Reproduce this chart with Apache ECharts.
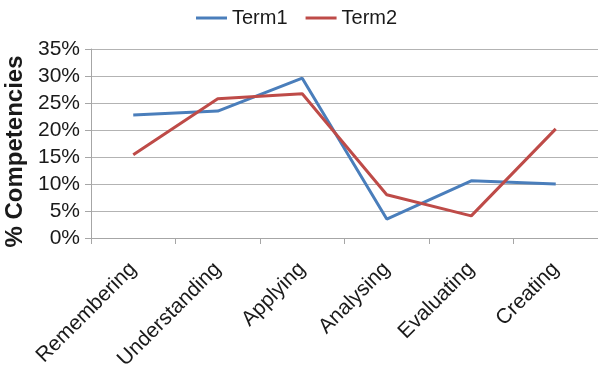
<!DOCTYPE html>
<html>
<head>
<meta charset="utf-8">
<script src="https://cdn.jsdelivr.net/npm/echarts@6/dist/echarts.min.js"></script>
<style>
  html, body { margin: 0; padding: 0; background: #fff; }
  #chart { width: 598px; height: 379px; }
</style>
</head>
<body>
<div id="chart"></div>
<script>
// Bloom's taxonomy levels and share of competencies per term (%)
const categories = ['Remembering', 'Understanding', 'Applying', 'Analysing', 'Evaluating', 'Creating'];
const term1 = [22.8, 23.5, 29.6, 3.5, 10.6, 10.0];
const term2 = [15.4, 25.8, 26.7, 8.0, 4.1, 20.2];
const seriesNames = ['Term1', 'Term2'];

const chart = echarts.init(document.getElementById('chart'), null, { renderer: 'canvas' });
const font = 'Liberation Sans, Arial, sans-serif';

chart.setOption({
  animation: false,
  backgroundColor: '#ffffff',
  legend: {
    top: 3,
    left: 191,
    icon: 'rect',
    itemWidth: 31,
    itemHeight: 3,
    itemGap: 18,
    textStyle: { fontFamily: font, fontSize: 20, color: '#1a1a1a' },
    data: seriesNames
  },
  grid: {
    left: 91, right: 0, top: 49, bottom: 141,
    containLabel: false,
    outerBoundsMode: 'none'
  },
  xAxis: {
    type: 'category',
    data: categories,
    boundaryGap: true,
    axisLine: { lineStyle: { color: '#a6a6a6', width: 1 } },
    axisTick: { show: true, length: 6, lineStyle: { color: '#a6a6a6' } },
    axisLabel: {
      rotate: 45,
      margin: 28,
      fontFamily: font,
      fontSize: 21,
      color: '#1a1a1a'
    }
  },
  yAxis: {
    type: 'value',
    min: 0,
    max: 35,
    interval: 5,
    name: '% Competencies',
    nameLocation: 'middle',
    nameGap: 59,
    nameTextStyle: {
      fontFamily: font,
      fontSize: 24,
      fontWeight: 'bold',
      color: '#1a1a1a',
      padding: [0, 16, 0, 0]
    },
    axisLine: { show: true, lineStyle: { color: '#a6a6a6', width: 1 } },
    axisTick: { show: true, length: 6, lineStyle: { color: '#a6a6a6' } },
    axisLabel: {
      formatter: '{value}%',
      margin: 11,
      fontFamily: font,
      fontSize: 21,
      color: '#1a1a1a'
    },
    splitLine: { show: true, lineStyle: { color: '#b3b3b3', width: 1 } }
  },
  series: [
    {
      name: seriesNames[0],
      type: 'line',
      data: term1,
      symbol: 'none',
      lineStyle: { color: '#4a7ebb', width: 3 },
      itemStyle: { color: '#4a7ebb' }
    },
    {
      name: seriesNames[1],
      type: 'line',
      data: term2,
      symbol: 'none',
      lineStyle: { color: '#be4b48', width: 3 },
      itemStyle: { color: '#be4b48' }
    }
  ]
});
</script>
</body>
</html>
